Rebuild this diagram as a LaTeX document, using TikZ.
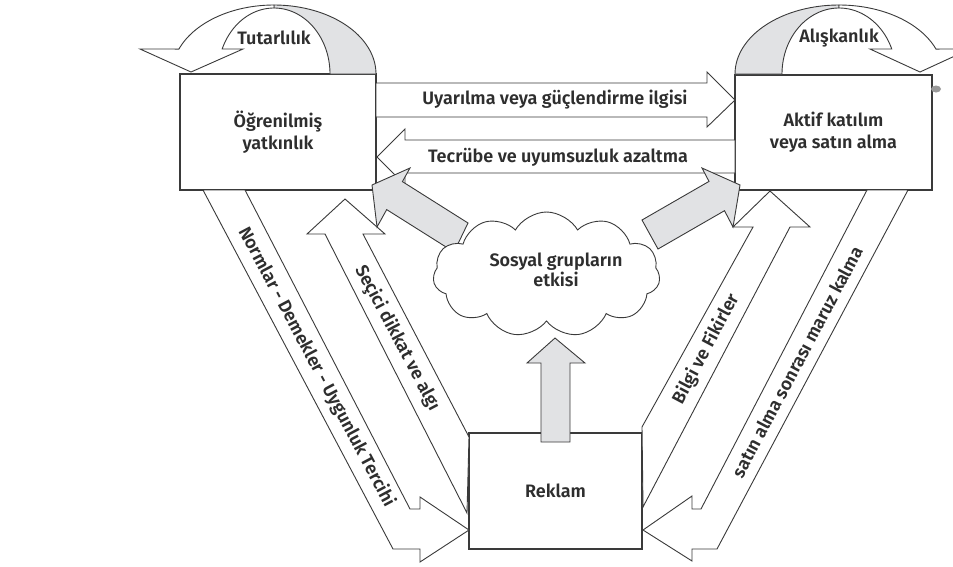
\documentclass[tikz,border=0pt]{standalone}
\usepackage{fontspec}
\setmainfont{Fira Sans}[UprightFont={* SemiBold}]
\usetikzlibrary{shapes.symbols}
\definecolor{inkc}{HTML}{3A3A3A}
\definecolor{txtc}{HTML}{2E2E2E}
\definecolor{shadec}{HTML}{E1E2E4}
\definecolor{blobc}{HTML}{9A9A9A}
\begin{document}
\begin{tikzpicture}[x=1pt,y=-1pt,
  edge/.style={draw=inkc,line width=0.9pt,line join=miter,miter limit=6},
  band/.style={edge,fill=white},
  shade/.style={edge,fill=shadec},
  box/.style={draw=inkc,line width=1.2pt,fill=white,inner sep=0pt,align=center,
    text=txtc,font=\fontsize{18}{22}\selectfont},
  lbl/.style={text=txtc,font=\fontsize{18}{21}\selectfont,inner sep=0pt,align=center}]
\useasboundingbox (0,0) rectangle (953,566);

% the three boxes
\node[box,minimum width=196pt,minimum height=116pt] (lern) at (278,132) {Öğrenilmiş\\yatkınlık};
\node[box,minimum width=197pt,minimum height=115pt] (akt) at (833.5,132.5) {Aktif katılım\\veya satın alma};
\node[box,minimum width=173pt,minimum height=116pt] (rek) at (555.5,491) {Reklam};
\fill[blobc] (936,89) ellipse[x radius=5pt,y radius=3.5pt];

% curved arrow over the left box
\draw[shade] plot[domain=0:90,samples=40] ({274+102*cos(\x)},{74-69*sin(\x)})
  -- plot[domain=90:0,samples=40] ({274+56*cos(\x)},{74-66*sin(\x)}) -- cycle;
\draw[band] plot[domain=90:158.8,samples=40] ({274+102*cos(\x)},{74-69*sin(\x)})
  -- (140,49) -- (191,72) -- (243,49)
  -- plot[domain=157.7:90,samples=40] ({274+56*cos(\x)},{74-66*sin(\x)}) -- cycle;
\node[lbl] (tut) at (274,38) {Tutarlılık};

% curved arrow over the right box
\draw[shade] plot[domain=90:180,samples=40] ({839+104*cos(\x)},{74-69*sin(\x)})
  -- plot[domain=180:90,samples=40] ({839+57*cos(\x)},{74-66*sin(\x)}) -- cycle;
\draw[band] plot[domain=90:21.2,samples=40] ({839+104*cos(\x)},{74-69*sin(\x)})
  -- (970,49) -- (920,72) -- (870,49)
  -- plot[domain=22.3:90,samples=40] ({839+57*cos(\x)},{74-66*sin(\x)}) -- cycle;
\node[lbl] (alis) at (839,38) {Alışkanlık};

% horizontal block arrows between the boxes
\draw[band] (376,83) -- (707,83) -- (707,72) -- (735,100) -- (707,127) -- (707,117) -- (376,117) -- cycle;
\node[lbl] (uyar) at (555,100) {Uyarılma veya güçlendirme ilgisi};
\draw[band] (735,140) -- (405,140) -- (405,129) -- (377,157) -- (405,185) -- (405,173) -- (735,173) -- cycle;
\node[lbl] (tecr) at (558,157) {Tecrübe ve uyumsuzluk azaltma};

% slanted block arrows to and from the advertising box
\draw[band] (203,190) -- (245,190) -- (410,509) -- (420,509) -- (420,497) -- (469,530)
  -- (420,562) -- (420,549) -- (393,549) -- cycle;
\node[lbl,rotate=-62] (norm) at (316.5,367) {Normlar - Demekler - Uygunluk Tercihi};
\draw[band] (469,437) -- (363,234) -- (385,234) -- (345,199) -- (307,234) -- (325,234) -- (467,513) -- cycle;
\node[lbl,rotate=-62] (sec) at (397,338) {Seçici dikkat ve algı};
\draw[band] (642,427) -- (753,227) -- (733,227) -- (770,191) -- (810,227) -- (790,227) -- (643,507) -- cycle;
\node[lbl,rotate=62] (bilg) at (706,349) {Bilgi ve Fikirler};
\draw[band] (867,190) -- (701,509) -- (692,509) -- (692,496) -- (643,530) -- (692,561) -- (692,549)
  -- (717,549) -- (908,190) -- cycle;
\node[lbl,rotate=62] (sat) at (797,362) {satın alma sonrası maruz kalma};

% grey arrows from the cloud to the upper boxes
\draw[shade] (468,223) -- (402.4,181.6) -- (410,168) -- (372,185) -- (377,227) -- (386.7,209.6) -- (454,252) -- cycle;
\draw[shade] (642,220) -- (709,181.4) -- (702,168) -- (740,185) -- (733,227) -- (724.5,210.7) -- (658,249) -- cycle;

% social groups cloud
\node[cloud,draw=inkc,line width=0.9pt,fill=white,cloud puffs=11,cloud puff arc=120,aspect=1.8,
  minimum width=227pt,minimum height=125pt,inner sep=0pt] (grp) at (546.5,274.5) {};
\node[lbl,font=\fontsize{18}{20}\selectfont] (grptxt) at (556,270) {Sosyal grupların\\etkisi};

% grey arrow from the advertising box up to the cloud
\draw[shade] (541,442) -- (541,363) -- (527,363) -- (555,338) -- (585,363) -- (570,363) -- (570,442) -- cycle;
\end{tikzpicture}
\end{document}
